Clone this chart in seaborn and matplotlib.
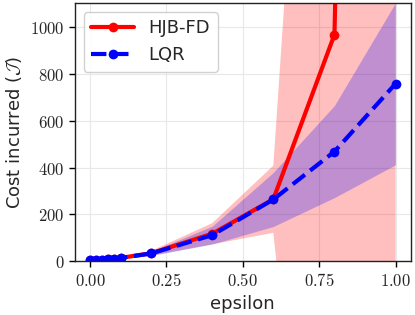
import numpy as np
import seaborn as sns
from matplotlib import pyplot as plt
from matplotlib.ticker import FuncFormatter

# Data
eps      = [0.0, 0.02, 0.04, 0.06, 0.08, 0.1, 0.2, 0.4, 0.6, 0.8, 1.0]
hjb_mean = [5, 6, 8, 10, 12, 15, 35, 118, 265, 966, 12000]
hjb_std  = [1, 1, 1, 2, 2, 3, 10, 45, 143, 3300, 20000]
lqr_mean = [5, 6, 8, 10, 12, 15, 34, 112, 264, 468, 757]
lqr_std  = [1, 1, 1, 2, 2, 3, 9, 38, 115, 196, 345]

sns.set_style("whitegrid")
plt.rcParams['mathtext.fontset'] = 'cm'
plt.rcParams['font.family'] = ['DejaVu Sans']

fig, ax = plt.subplots(figsize=(4.15, 3.15), dpi=100)

eps_a = np.array(eps)
for mean, std, col, ls, lab in [(hjb_mean, hjb_std, "red", "-", "HJB-FD"),
                                (lqr_mean, lqr_std, "blue", "--", "LQR")]:
    m = np.array(mean, dtype=float)
    s = np.array(std, dtype=float)
    sns.lineplot(x=eps, y=mean, ax=ax, color=col, linestyle=ls, linewidth=3,
                 marker="o", markersize=7, markeredgewidth=0, label=lab)
    ax.fill_between(eps_a, m - s, m + s, color=col, alpha=0.25, linewidth=0)

ax.set_xlim(-0.05, 1.05)
ax.set_ylim(0, 1100)
ax.set_xticks([0, 0.25, 0.5, 0.75, 1.0])
ax.set_yticks([0, 200, 400, 600, 800, 1000])
ax.xaxis.set_major_formatter(FuncFormatter(lambda v, p: r"$%.2f$" % v))
ax.yaxis.set_major_formatter(FuncFormatter(lambda v, p: r"$%d$" % v))
ax.tick_params(axis="both", labelsize=12, length=4, width=1, color="black",
               bottom=True, left=True)
ax.grid(color="#e8e8e8", linewidth=0.8)
for sp in ax.spines.values():
    sp.set_color("#222222")
    sp.set_linewidth(1.0)

ax.set_xlabel("epsilon", fontsize=13)
ax.set_ylabel(r"Cost incurred ($\mathcal{J}$)", fontsize=13)
ax.legend(loc="upper left", fontsize=13, handlelength=2.4, framealpha=0.9)

fig.subplots_adjust(left=0.18, right=0.99, top=0.99, bottom=0.17)
fig.savefig("out.png", dpi=100)
